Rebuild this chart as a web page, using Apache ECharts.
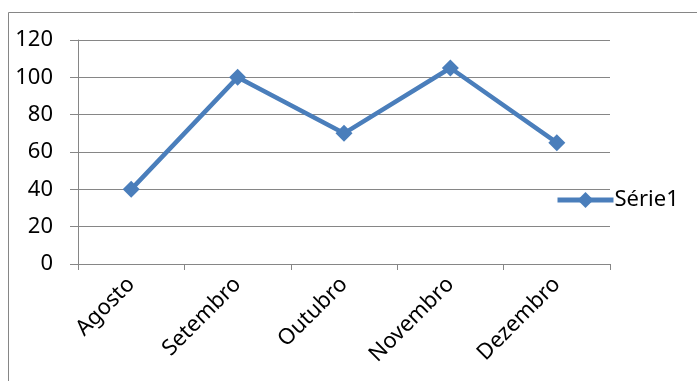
<!DOCTYPE html>
<html><head><meta charset="utf-8">
<script src="https://cdn.jsdelivr.net/npm/echarts@6/dist/echarts.min.js"></script>
<style>html,body{margin:0;padding:0;background:#fff}#c{width:697px;height:381px}</style>
</head><body><div id="c"></div>
<script>
const categories = ['Agosto','Setembro','Outubro','Novembro','Dezembro'];
const serie1 = [40, 100, 70, 105, 65];
const seriesName = 'Série1';
const FONT = '"Noto Sans", sans-serif';
const blue = '#4a7ebb';
const gray = '#868686';
const chart = echarts.init(document.getElementById('c'), null, {renderer:'canvas'});
chart.setOption({
  animation:false,
  graphic:[{type:'rect',shape:{x:8.5,y:12.5,width:800,height:500},style:{fill:'none',stroke:gray,lineWidth:1},silent:true}],
  grid:{left:78,top:40,right:87,bottom:117,containLabel:false},
  legend:{
    data:[seriesName], left:555, top:189, padding:0, itemWidth:56, itemHeight:20, itemGap:0,
    lineStyle:{width:5},
    textStyle:{fontFamily:FONT,fontSize:22,color:'#000',padding:[0,0,0,-4]}
  },
  xAxis:{
    type:'category', data:categories, boundaryGap:true,
    axisLine:{lineStyle:{color:gray,width:1}},
    axisTick:{show:true,length:6,lineStyle:{color:gray}},
    axisLabel:{rotate:45,fontFamily:FONT,fontSize:22,color:'#000',margin:17,interval:0}
  },
  yAxis:{
    type:'value', min:0, max:120, interval:20,
    axisLine:{show:true,lineStyle:{color:gray,width:1}},
    axisTick:{show:true,inside:false,length:8,lineStyle:{color:gray}},
    splitLine:{show:true,lineStyle:{color:gray,width:1}},
    axisLabel:{fontFamily:FONT,fontSize:22,color:'#000',margin:25}
  },
  series:[{
    name:seriesName, type:'line', data:serie1,
    symbol:'diamond', symbolSize:17,
    lineStyle:{color:blue,width:4.5},
    itemStyle:{color:blue}
  }]
});
</script></body></html>
